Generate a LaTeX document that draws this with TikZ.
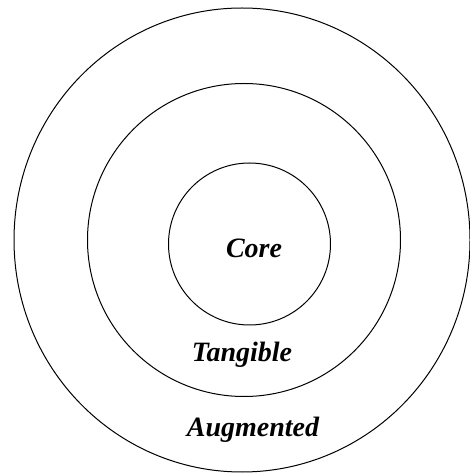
\documentclass[tikz,border=0pt]{standalone}
\usepackage{fontspec}
\setmainfont{Liberation Serif}
\usepackage{tikz}
\usetikzlibrary{positioning}

\begin{document}
\begin{tikzpicture}[
  x=1pt, y=1pt,
  every node/.style={align=center},
  ring/.style={draw, line width=1pt},
  lbl/.style={font=\fontsize{28}{32}\selectfont\bfseries\itshape, inner sep=0pt}
]
\useasboundingbox (0,0) rectangle (470,474);

% rings
\draw[ring] (242,234) ellipse [x radius=228, y radius=232];
\draw[ring] (244,234) circle [radius=156.5];
\draw[ring] (249.5,230) circle [radius=81];

% labels
\node[lbl] (core) at (254,226) {Core};
\node[lbl] (tang) at (242,119) {Tangible};
\node[lbl] (augm) at (253,44) {Augmented};

\end{tikzpicture}
\end{document}
